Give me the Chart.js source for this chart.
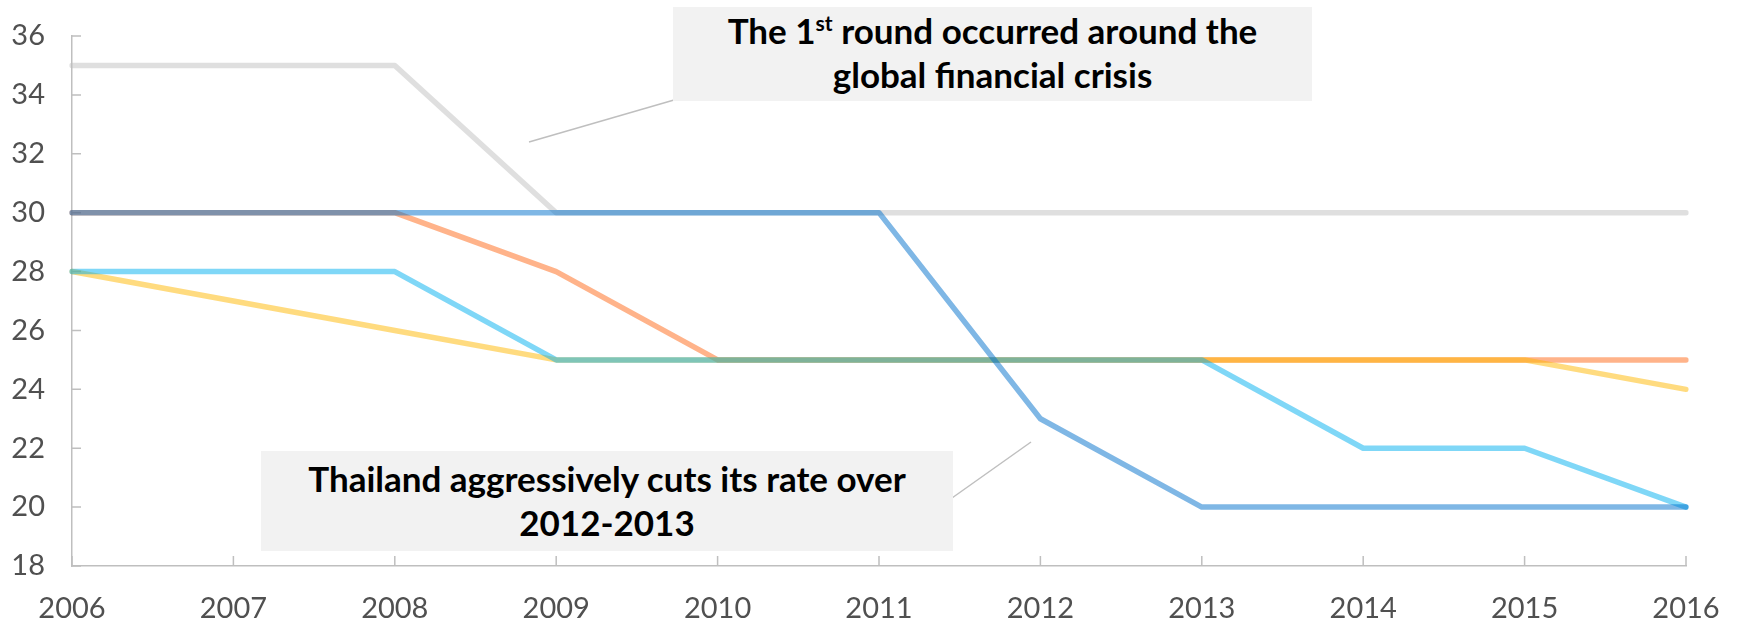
<!DOCTYPE html>
<html>
<head>
<meta charset="utf-8">
<script src="https://cdn.jsdelivr.net/npm/chart.js@4.4.1/dist/chart.umd.min.js"></script>
<style>
html, body {
    margin: 0;
    padding: 0;
    background: #fff;
}
#wrap {
    position: relative;
    width: 1737px;
    height: 620px;
}
.note {
    position: absolute;
    background: #f2f2f2;
    color: #000;
    font-family: Lato, sans-serif;
    font-weight: bold;
    font-size: 35px;
    line-height: 44px;
    text-align: center;
    box-sizing: border-box;
    white-space: nowrap;
}
.note sup {
    font-size: 60%;
    line-height: 0;
    vertical-align: baseline;
    position: relative;
    top: -0.62em;
}
</style>
</head>
<body>
<div id="wrap">
    <canvas id="rateChart" width="1737" height="620"></canvas>
    <div class="note" style="left:673px; top:7px; width:639px; height:94px; padding-top:1px;">
        The 1<sup>st</sup> round occurred around the<br>global financial crisis
    </div>
    <div class="note" style="left:261px; top:451px; width:692px; height:100px; padding-top:5px;">
        Thailand aggressively cuts its rate over<br>2012-2013
    </div>
</div>
<script>
var years = ["2006", "2007", "2008", "2009", "2010", "2011", "2012", "2013", "2014", "2015", "2016"];

var grayRates      = [35, 35, 35, 30, 30, 30, 30, 30, 30, 30, 30];
var thailandRates  = [30, 30, 30, 30, 30, 30, 23, 20, 20, 20, 20];
var orangeRates    = [30, 30, 30, 28, 25, 25, 25, 25, 25, 25, 25];
var yellowRates    = [28, 27, 26, 25, 25, 25, 25, 25, 25, 25, 24];
var lightBlueRates = [28, 28, 28, 25, 25, 25, 25, 25, 22, 22, 20];

var yMin = 18, yMax = 36, yStep = 2;

var axisColor = "#bfbfbf";
var labelColor = "#505050";

// thin leader lines from the note boxes (canvas pixels)
var leaders = [
    [529, 142, 674, 100],
    [952, 498, 1031, 442]
];

Chart.defaults.font.family = "Lato, sans-serif";

function series(label, data, color, order) {
    return {
        label: label,
        data: data,
        borderColor: color,
        backgroundColor: color,
        borderWidth: 5.5,
        borderCapStyle: "round",
        borderJoinStyle: "round",
        pointRadius: 0,
        pointHoverRadius: 0,
        tension: 0,
        fill: false,
        order: order
    };
}

// tick marks point inward from both axes, Excel style
var innerTicks = {
    id: "innerTicks",
    beforeDatasetsDraw: function(chart) {
        var ctx = chart.ctx, area = chart.chartArea;
        var x = chart.scales.x, y = chart.scales.y;
        ctx.save();
        ctx.strokeStyle = axisColor;
        ctx.lineWidth = 1.5;
        ctx.beginPath();
        for (var i = 0; i < x.ticks.length; i++) {
            var px = x.getPixelForTick(i);
            ctx.moveTo(px, area.bottom);
            ctx.lineTo(px, area.bottom - 10);
        }
        for (var j = 0; j < y.ticks.length; j++) {
            var py = y.getPixelForTick(j);
            ctx.moveTo(area.left, py);
            ctx.lineTo(area.left + 9, py);
        }
        ctx.stroke();
        ctx.restore();
    }
};

var leaderLines = {
    id: "leaderLines",
    afterDraw: function(chart) {
        var ctx = chart.ctx;
        ctx.save();
        ctx.strokeStyle = axisColor;
        ctx.lineWidth = 1.5;
        leaders.forEach(function(l) {
            ctx.beginPath();
            ctx.moveTo(l[0], l[1]);
            ctx.lineTo(l[2], l[3]);
            ctx.stroke();
        });
        ctx.restore();
    }
};

var ctx = document.getElementById("rateChart").getContext("2d");
var rateChart = new Chart(ctx, {
    type: "line",
    data: {
        labels: years,
        datasets: [
            series("Thailand", thailandRates, "rgba(0,112,204,0.5)", 1),
            series("Series 2", grayRates, "rgba(191,191,191,0.5)", 2),
            series("Series 3", lightBlueRates, "rgba(0,176,240,0.5)", 3),
            series("Series 4", yellowRates, "rgba(255,184,0,0.5)", 4),
            series("Series 5", orangeRates, "rgba(255,103,21,0.5)", 5)
        ]
    },
    options: {
        responsive: false,
        animation: false,
        events: [],
        layout: {
            padding: { left: 0, top: 36, right: 51, bottom: 0 }
        },
        plugins: {
            legend: { display: false },
            tooltip: { enabled: false }
        },
        scales: {
            x: {
                offset: false,
                grid: { display: false, drawTicks: false },
                border: { display: true, color: axisColor, width: 1.5 },
                ticks: {
                    color: labelColor,
                    font: { size: 29 },
                    padding: 25,
                    maxRotation: 0,
                    autoSkip: false
                },
                afterFit: function(scale) {
                    scale.height = 54;
                    scale.paddingLeft = 0;
                    scale.paddingRight = 0;
                }
            },
            y: {
                min: yMin,
                max: yMax,
                grid: { display: false, drawTicks: false },
                border: { display: true, color: axisColor, width: 1.5 },
                ticks: {
                    stepSize: yStep,
                    color: labelColor,
                    font: { size: 29 },
                    padding: 27
                },
                afterFit: function(scale) {
                    scale.width = 72;
                    scale.paddingTop = 0;
                    scale.paddingBottom = 0;
                }
            }
        }
    },
    plugins: [innerTicks, leaderLines]
});
</script>
</body>
</html>
